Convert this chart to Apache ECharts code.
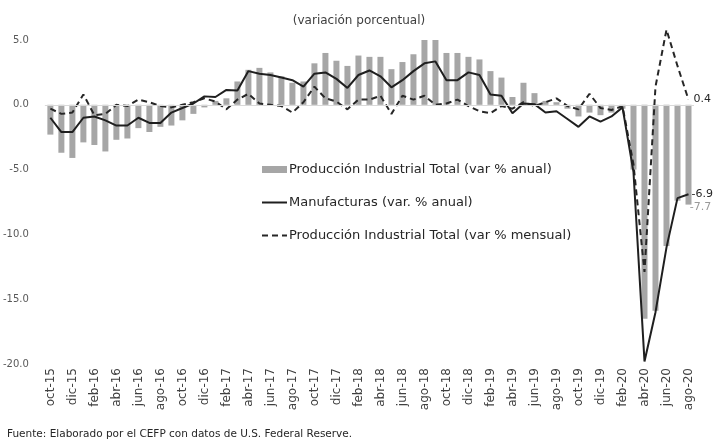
<!DOCTYPE html>
<html>
<head>
<meta charset="utf-8">
<script src="https://cdn.jsdelivr.net/npm/echarts@6/dist/echarts.min.js"></script>
<style>
html,body{margin:0;padding:0;background:#fff;}
#c{width:718px;height:439px;}
</style>
</head>
<body>
<div id="c"></div>
<script>
const months = ['oct-15','nov-15','dic-15','ene-16','feb-16','mar-16','abr-16','may-16','jun-16','jul-16','ago-16','sep-16',
'oct-16','nov-16','dic-16','ene-17','feb-17','mar-17','abr-17','may-17','jun-17','jul-17','ago-17','sep-17',
'oct-17','nov-17','dic-17','ene-18','feb-18','mar-18','abr-18','may-18','jun-18','jul-18','ago-18','sep-18',
'oct-18','nov-18','dic-18','ene-19','feb-19','mar-19','abr-19','may-19','jun-19','jul-19','ago-19','sep-19',
'oct-19','nov-19','dic-19','ene-20','feb-20','mar-20','abr-20','may-20','jun-20','jul-20','ago-20'];

const ipAnual = [-2.3,-3.7,-4.1,-2.9,-3.1,-3.6,-2.7,-2.6,-1.8,-2.1,-1.7,-1.6,
-1.2,-0.7,-0.2,0.3,0.5,1.8,2.7,2.85,2.5,2.2,1.7,1.8,
3.2,4.0,3.4,3.0,3.8,3.7,3.7,2.75,3.3,3.9,5.1,5.3,
4.0,4.0,3.7,3.5,2.6,2.1,0.6,1.7,0.9,0.3,0.2,-0.3,
-0.9,-0.6,-0.8,-0.6,-0.3,-5.0,-16.5,-15.9,-10.9,-7.4,-7.7];

const manufAnual = [-1.0,-2.1,-2.1,-1.0,-0.9,-1.2,-1.6,-1.6,-1.0,-1.4,-1.4,-0.6,
-0.25,0.1,0.65,0.6,1.15,1.1,2.6,2.4,2.3,2.1,1.9,1.4,
2.4,2.5,2.0,1.3,2.3,2.65,2.2,1.35,1.9,2.6,3.2,3.35,
1.9,1.9,2.5,2.3,0.8,0.7,-0.65,0.1,0.05,-0.6,-0.5,-1.1,
-1.7,-0.9,-1.3,-0.9,-0.2,-5.2,-19.8,-16.0,-11.0,-7.2,-6.9];

const ipMensual = [-0.3,-0.7,-0.6,0.8,-0.8,-0.7,0.0,-0.1,0.4,0.2,-0.1,-0.2,
0.0,0.2,0.5,0.25,-0.35,0.4,0.85,0.1,0.0,-0.1,-0.6,0.2,
1.4,0.5,0.25,-0.35,0.4,0.4,0.7,-0.7,0.7,0.4,0.7,0.0,
0.1,0.4,-0.1,-0.5,-0.65,-0.1,-0.3,0.2,-0.1,0.2,0.5,-0.1,
-0.35,0.85,-0.25,-0.4,-0.1,-4.6,-12.9,1.4,5.8,3.0,0.4];

const yTicks = {min:-20, max:5, interval:5};

const FONT = 'DejaVu Sans';
const names = ['Producción Industrial Total (var % anual)','Manufacturas (var. % anual)','Producción Industrial Total (var % mensual)'];

const fmt1 = (p)=>Number(Array.isArray(p.value)?p.value[p.value.length-1]:p.value).toFixed(1);

const chart = echarts.init(document.getElementById('c'));
chart.setOption({
  animation:false,
  backgroundColor:'#ffffff',
  title:[
    {text:'(variación porcentual)', left:'center', top:10, textStyle:{fontFamily:FONT, fontSize:12, fontWeight:'normal', color:'#404040'}},
    {text:'Fuente: Elaborado por el CEFP con datos de U.S. Federal Reserve.', left:2, top:424, textStyle:{fontFamily:FONT, fontSize:10.5, fontWeight:'normal', color:'#262626'}}
  ],
  legend:{
    orient:'vertical', left:256, top:158, itemWidth:25, itemHeight:7, itemGap:20,
    textStyle:{fontFamily:FONT, fontSize:13, color:'#262626', padding:[0,0,0,-3]},
    data:[
      {name:names[0], icon:'rect'},
      {name:names[1], itemStyle:{opacity:0, borderWidth:0}},
      {name:names[2], itemStyle:{opacity:0, borderWidth:0}}
    ]
  },
  grid:{left:44, right:24, top:40, bottom:75, containLabel:false},
  xAxis:{
    type:'category', data:months, boundaryGap:true,
    axisLine:{show:false}, axisTick:{show:false},
    axisLabel:{interval:1, rotate:90, margin:4, fontFamily:FONT, fontSize:12, color:'#404040'}
  },
  yAxis:{
    type:'value', min:yTicks.min, max:yTicks.max, interval:yTicks.interval,
    axisLine:{show:false}, axisTick:{show:false}, splitLine:{show:false},
    axisLabel:{margin:16, fontFamily:FONT, fontSize:10, color:'#595959', formatter:(v)=>v.toFixed(1)}
  },
  series:[
    {name:names[0], type:'bar',
     data:ipAnual.map((v,i)=> i===ipAnual.length-1 ? {value:v, label:{show:true, position:'bottom', offset:[12,-8], formatter:fmt1, color:'#999999', fontSize:11, fontFamily:FONT}} : v),
     barWidth:6, itemStyle:{color:'#a6a6a6'},
     markLine:{silent:true, symbol:'none', label:{show:false}, lineStyle:{color:'#d9d9d9', width:1, type:'solid'}, data:[{yAxis:0}]}},
    {name:names[1], type:'line', data:manufAnual,
     symbol:'none', clip:false, lineStyle:{color:'#1f1f1f', width:2}, itemStyle:{color:'#1f1f1f'}, z:4,
     endLabel:{show:true, formatter:fmt1, distance:3, color:'#262626', fontSize:11, fontFamily:FONT}},
    {name:names[2], type:'line', data:ipMensual,
     symbol:'none', clip:false, lineStyle:{color:'#262626', width:2, type:[6,4]}, itemStyle:{color:'#262626'}, z:3,
     endLabel:{show:true, formatter:fmt1, distance:5, color:'#262626', fontSize:11, fontFamily:FONT}}
  ]
});
</script>
</body>
</html>
